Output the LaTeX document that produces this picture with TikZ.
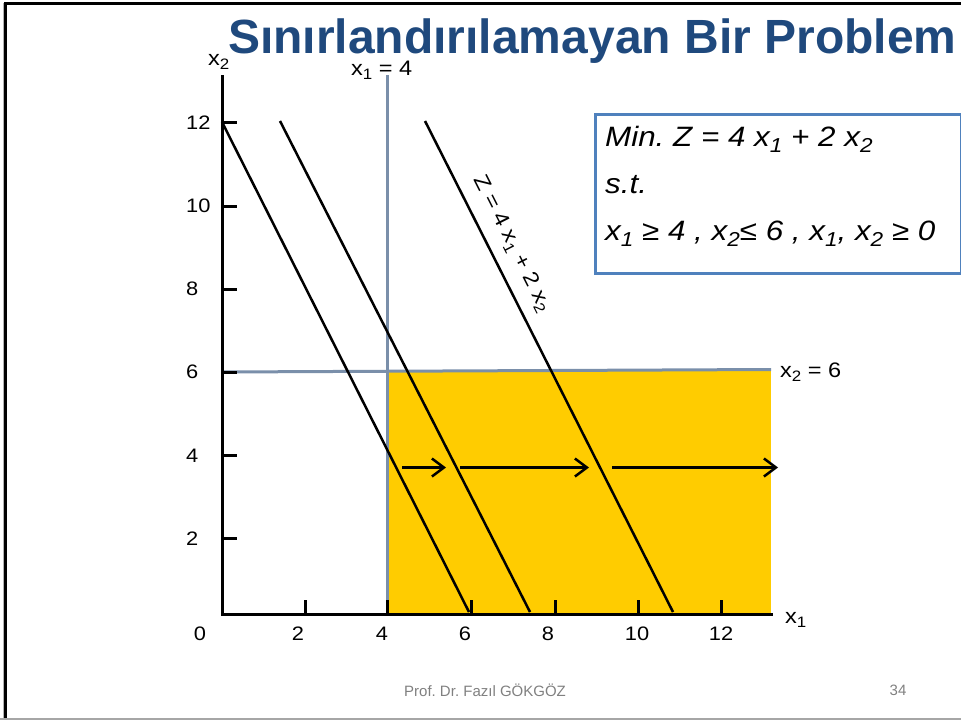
\documentclass[tikz,border=0pt]{standalone}
\usepackage{fontspec}
\setmainfont{Liberation Sans}
\usetikzlibrary{arrows.meta}
\definecolor{titleblue}{RGB}{31,73,125}
\definecolor{cgray}{RGB}{122,143,170}
\definecolor{fyellow}{RGB}{255,204,0}
\definecolor{boxblue}{RGB}{79,129,189}
\definecolor{footgray}{RGB}{128,128,128}
\newcommand{\fs}[1]{\fontsize{#1}{#1}\selectfont}
\newcommand{\sub}[1]{\raisebox{-0.22em}{\scalebox{0.72}{#1}}}
\newcommand{\wide}[1]{\scalebox{1.12}[1]{#1}}
\frenchspacing
\begin{document}
\begin{tikzpicture}[x=1pt,y=-1pt,
  axis/.style={line width=3pt, black},
  tick/.style={line width=3pt, black},
  cline/.style={cgray, line width=3pt},
  zline/.style={line width=2.5pt, black},
  dirarrow/.style={line width=2.5pt, -{Straight Barb[length=12pt,width=18pt]}},
  lab/.style={inner sep=0pt, font=\fs{21}},
  ticklab/.style={inner sep=0pt, font=\fs{19.5}},
  boxtext/.style={inner sep=0pt, anchor=base west, font=\fs{28}\itshape}]
\useasboundingbox (0,0) rectangle (961,720);
% slide frame
\draw[gray!60, line width=1.5pt] (3.5,3) -- (3.5,720);
\draw[black, line width=2.5pt] (961,3.7) -- (5.7,3.7) -- (5.7,720);
\draw[gray!70, line width=2pt] (0,718.5) -- (961,718.5);
% feasible region
\fill[fyellow] (387,371) rectangle (771,614);
% constraint lines
\coordinate (c1t) at (387,75);
\coordinate (c1b) at (387,614);
\coordinate (c2l) at (222,372);
\coordinate (c2r) at (771,369.5);
\draw[cline] (c1t) -- (c1b);
\draw[cline] (c2l) -- (c2r);
% axes
\coordinate (O) at (222,614);
\coordinate (ytop) at (222,75);
\coordinate (xend) at (773,614);
\draw[axis] (ytop) -- (O) -- (xend);
% ticks
\foreach \y in {122.7,206,289,372,455.6,538.8} \draw[tick] (222,\y) -- (237,\y);
\foreach \x in {305,387,471,555,638,721} \draw[tick] (\x,600) -- (\x,614);
% tick labels
\node[ticklab, anchor=west] (y12) at (186,122.7) {\wide{12}};
\node[ticklab, anchor=west] (y10) at (186,206) {\wide{10}};
\node[ticklab, anchor=west] (y8) at (186,289) {\wide{8}};
\node[ticklab, anchor=west] (y6) at (186,372) {\wide{6}};
\node[ticklab, anchor=west] (y4) at (186,455.6) {\wide{4}};
\node[ticklab, anchor=west] (y2) at (186,538.8) {\wide{2}};
\node[ticklab] (x0) at (200,634) {\wide{0}};
\node[ticklab] (x2) at (298,634) {\wide{2}};
\node[ticklab] (x4) at (382,634) {\wide{4}};
\node[ticklab] (x6) at (465,634) {\wide{6}};
\node[ticklab] (x8) at (548,634) {\wide{8}};
\node[ticklab] (x10) at (637,634) {\wide{10}};
\node[ticklab] (x12) at (721,634) {\wide{12}};
% Z lines
\coordinate (z1t) at (222,122);
\coordinate (z1b) at (469,612);
\coordinate (z2t) at (280,121);
\coordinate (z2b) at (530,612);
\coordinate (z3t) at (425,121);
\coordinate (z3b) at (673,612);
\draw[zline] (z1t) -- (z1b);
\draw[zline] (z2t) -- (z2b);
\draw[zline] (z3t) -- (z3b);
% direction arrows
\coordinate (a1s) at (402,467.5);
\coordinate (a1e) at (446,467.5);
\coordinate (a2s) at (460,467.5);
\coordinate (a2e) at (589,467.5);
\coordinate (a3s) at (612,467.5);
\coordinate (a3e) at (778,467.5);
\draw[dirarrow] (a1s) -- (a1e);
\draw[dirarrow] (a2s) -- (a2e);
\draw[dirarrow] (a3s) -- (a3e);
% labels
\node[lab, anchor=base west] (lx2) at (208,65) {\wide{x\sub{2}}};
\node[lab, anchor=base west] (lc1) at (351,75) {\wide{x\sub{1} = 4}};
\node[lab, anchor=base west] (lc2) at (780,377) {\wide{x\sub{2} = 6}};
\node[lab, anchor=base west] (lx1) at (785,623) {\wide{x\sub{1}}};
\node[lab, rotate=-63.2] (zlab) at (512,244) {\wide{Z = 4 x\sub{1} + 2 x\sub{2}}};
% title
\node[inner sep=0pt, anchor=base west, text=titleblue, font=\fs{48}\bfseries] (title) at (228,53) {Sınırlandırılamayan Bir Problem};
% model box
\node[draw=boxblue, line width=2.5pt, minimum width=366pt, minimum height=159pt, anchor=north west, inner sep=0pt] (box) at (594,113) {};
\node[boxtext] (m1) at (605,146) {\wide{Min. Z = 4 x\sub{1} + 2 x\sub{2}}};
\node[boxtext] (m2) at (605,193) {\wide{s.t.}};
\node[boxtext] (m3) at (605,240) {\wide{x\sub{1} ≥ 4 , x\sub{2}≤ 6 , x\sub{1}, x\sub{2} ≥ 0}};
% footer
\node[inner sep=0pt, text=footgray, font=\fs{15}] (foot) at (485,690) {Prof. Dr. Fazıl GÖKGÖZ};
\node[inner sep=0pt, text=footgray, font=\fs{15}] (page) at (898,690) {34};
\end{tikzpicture}
\end{document}
